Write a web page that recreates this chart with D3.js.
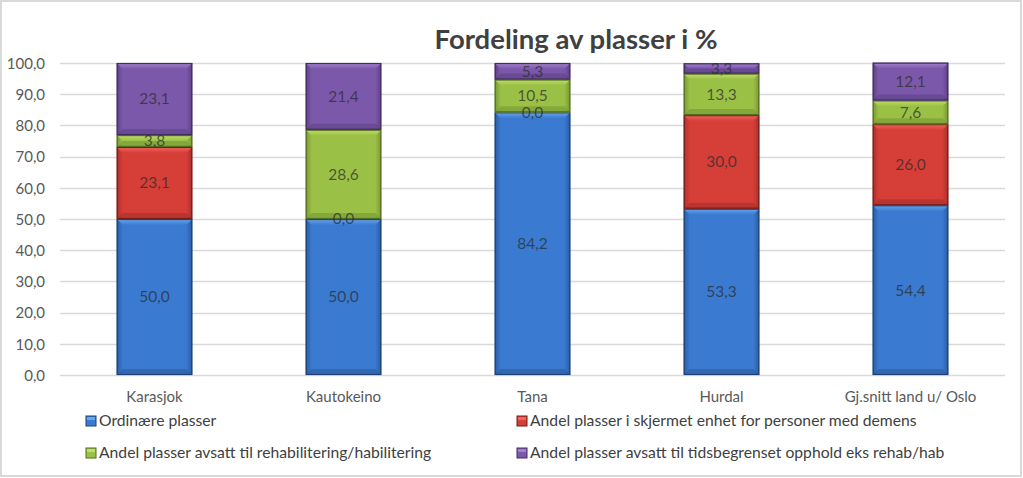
<!DOCTYPE html>
<html><head><meta charset="utf-8">
<script src="https://cdn.jsdelivr.net/npm/d3@7"></script>
<style>body{margin:0;background:#fff}svg{display:block}</style>
</head><body><svg id="c" width="1023" height="478"></svg>
<script>
const categories = ["Karasjok","Kautokeino","Tana","Hurdal","Gj.snitt land u/ Oslo"];
const seriesNames = ["Ordinære plasser","Andel plasser i skjermet enhet for personer med demens","Andel plasser avsatt til rehabilitering/habilitering","Andel plasser avsatt til tidsbegrenset opphold eks rehab/hab"];
const ordinaere = [50.0,50.0,84.2,53.3,54.4];
const skjermet = [23.1,0.0,0.0,30.0,26.0];
const rehab = [3.8,28.6,10.5,13.3,7.6];
const tidsbegrenset = [23.1,21.4,5.3,3.3,12.1];
const yTicks = [0,10,20,30,40,50,60,70,80,90,100];
const title = "Fordeling av plasser i %";

const seriesValues = [ordinaere, skjermet, rehab, tidsbegrenset];
const colors = [
  {base:"#3A7AD0", light:"#6AA6EE", dark:"#2A5CA0", stroke:"#1E4272"},
  {base:"#D63E38", light:"#F4655E", dark:"#A9302C", stroke:"#6E1F1C"},
  {base:"#9AC046", light:"#C0DF6A", dark:"#789834", stroke:"#556D22"},
  {base:"#7C58AB", light:"#A282CE", dark:"#5E4185", stroke:"#422D60"}
];
const FONT = "Lato, 'Open Sans', sans-serif";
const fmt = v => v.toFixed(1).replace(".", ",");

const svg = d3.select("#c");
svg.append("rect").attr("x",1).attr("y",1).attr("width",1020).attr("height",475)
  .attr("fill","#fff").attr("stroke","#d9d9d9").attr("stroke-width",2);

const pLeft = 60, pRight = 1005, pTop = 63, pBottom = 375;
const x = d3.scaleBand().domain(categories).range([pLeft,pRight]).paddingInner(0.6).paddingOuter(0.3);
const y = d3.scaleLinear().domain([0,100]).range([pBottom,pTop]);

const defs = svg.append("defs");
colors.forEach((c,i)=>{
  const g = defs.append("linearGradient").attr("id","g"+i).attr("x1",0).attr("y1",0).attr("x2",1).attr("y2",0);
  g.append("stop").attr("offset","0%").attr("stop-color",c.dark);
  g.append("stop").attr("offset","8%").attr("stop-color",c.base);
  g.append("stop").attr("offset","92%").attr("stop-color",c.base);
  g.append("stop").attr("offset","100%").attr("stop-color",c.dark);
  const gv = defs.append("linearGradient").attr("id","gv"+i).attr("x1",0).attr("y1",0).attr("x2",0).attr("y2",1);
  gv.append("stop").attr("offset","0%").attr("stop-color",c.light);
  gv.append("stop").attr("offset","100%").attr("stop-color",c.base);
});

svg.append("g").selectAll("line").data(yTicks).join("line")
  .attr("x1",pLeft).attr("x2",pRight).attr("y1",d=>Math.round(y(d))+0.5).attr("y2",d=>Math.round(y(d))+0.5)
  .attr("stroke","#d9d9d9").attr("stroke-width",1.5);

const yAxis = d3.axisLeft(y).tickValues(yTicks).tickFormat(fmt).tickSize(0).tickPadding(0);
const ya = svg.append("g").attr("transform",`translate(${pLeft-15},0)`).call(yAxis);
ya.select(".domain").remove();
ya.selectAll("text").attr("font-family",FONT).attr("font-size",15).attr("fill","#595959").attr("dy","0.35em");

const xAxis = d3.axisBottom(x).tickSize(0).tickPadding(0);
const xa = svg.append("g").attr("transform",`translate(0,${pBottom+22})`).call(xAxis);
xa.select(".domain").remove();
xa.selectAll("text").attr("font-family",FONT).attr("font-size",15).attr("fill","#595959").attr("dy","0.35em");

const rows = categories.map((c,i)=>{const r={cat:c}; seriesValues.forEach((s,j)=>r["s"+j]=s[i]); return r;});
const stack = d3.stack().keys(seriesValues.map((s,j)=>"s"+j))(rows);
const bw = x.bandwidth();
const bars = svg.append("g");
stack.forEach((layer,j)=>{
  layer.forEach(d=>{
    const x0 = x(d.data.cat), x1 = x0+bw;
    const yt = y(d[1]), yb = y(d[0]);
    const h = yb-yt;
    if (h <= 0.01) return;
    const g = bars.append("g");
    const c = colors[j];
    g.append("rect").attr("x",x0).attr("y",yt).attr("width",bw).attr("height",h).attr("fill",`url(#g${j})`);
    const b = Math.min(6, h/2);
    g.append("path").attr("d",`M${x0},${yt}L${x1},${yt}L${x1-b},${yt+b}L${x0+b},${yt+b}Z`).attr("fill",`url(#gv${j})`);
    g.append("path").attr("d",`M${x0},${yb}L${x1},${yb}L${x1-b},${yb-b}L${x0+b},${yb-b}Z`).attr("fill",c.dark).attr("opacity",0.6);
    g.append("rect").attr("x",x0+0.5).attr("y",yt+0.5).attr("width",bw-1).attr("height",Math.max(0,h-1))
      .attr("fill","none").attr("stroke",c.stroke).attr("stroke-width",1.2);
  });
});
const labels = svg.append("g");
stack.forEach((layer,j)=>{
  layer.forEach(d=>{
    labels.append("text").attr("x",x(d.data.cat)+bw/2).attr("y",(y(d[0])+y(d[1]))/2)
      .attr("text-anchor","middle").attr("dy","0.35em")
      .attr("font-family",FONT).attr("font-size",15.5).attr("fill","#2b2b2b").attr("fill-opacity",0.72)
      .text(fmt(d.data["s"+j]));
  });
});

svg.append("text").attr("x",576).attr("y",49).attr("text-anchor","middle")
  .attr("font-family",FONT).attr("font-weight","bold").attr("font-size",27.5).attr("fill","#404040").text(title);

const legPos = [[86,421],[517,421],[86,453],[517,453]];
const leg = svg.append("g");
seriesNames.forEach((n,j)=>{
  const [lx,ly] = legPos[j];
  const c = colors[j];
  leg.append("rect").attr("x",lx).attr("y",ly-5).attr("width",10).attr("height",10).attr("fill",c.base).attr("stroke",c.stroke).attr("stroke-width",1);
  leg.append("rect").attr("x",lx+1).attr("y",ly-4).attr("width",8).attr("height",3).attr("fill",c.light);
  leg.append("text").attr("x",lx+13).attr("y",ly).attr("dy","0.35em").attr("font-family",FONT).attr("font-size",15.7).attr("fill","#404040").text(n);
});
</script></body></html>
